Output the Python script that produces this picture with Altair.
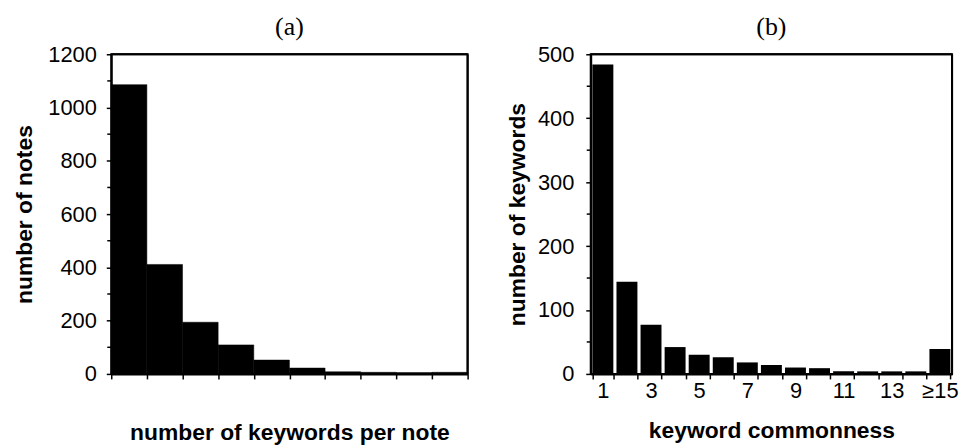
import altair as alt
import pandas as pd

# Panel (a): number of keywords per note (histogram, 10 bins)
a_bin_lo = [1, 2, 3, 4, 5, 6, 7, 8, 9, 10]
a_bin_hi = [2, 3, 4, 5, 6, 7, 8, 9, 10, 11]
a_counts = [1086, 411, 194, 109, 52, 22, 8, 6, 5, 6]
a_ticks = [1, 2, 3, 4, 5, 6, 7, 8, 9, 10, 11]
a_yticks = [0, 200, 400, 600, 800, 1000, 1200]
a_minor = [100, 300, 500, 700, 900, 1100]

# Panel (b): keyword commonness
b_cats = ["1", "2", "3", "4", "5", "6", "7", "8", "9", "10", "11", "12", "13", "14", "≥15"]
b_counts = [484, 144, 77, 42, 30, 26, 18, 14, 10, 9, 4, 4, 4, 4, 39]
b_shown = ["1", "3", "5", "7", "9", "11", "13", "≥15"]
b_yticks = [0, 100, 200, 300, 400, 500]
b_minor = [50, 150, 250, 350, 450]

SANS = "Liberation Sans"
SERIF = "Liberation Serif"
LABEL_SIZE = 22
TITLE_SIZE = 23
WA, WB, H = 359, 364, 322

df_a = pd.DataFrame({"lo": a_bin_lo, "hi": a_bin_hi, "n": a_counts})
df_am = pd.DataFrame({"v": a_minor})
df_b = pd.DataFrame({"c": b_cats, "n": b_counts})
df_bm = pd.DataFrame({"v": b_minor})
df_one = pd.DataFrame({"k": [0]})


def frame(w):
    top = alt.Chart(df_one).mark_rule(color="black", strokeWidth=2).encode(
        x=alt.value(0), x2=alt.value(w), y=alt.value(0))
    right = alt.Chart(df_one).mark_rule(color="black", strokeWidth=2).encode(
        x=alt.value(w), y=alt.value(0), y2=alt.value(H))
    return [top, right]


bars_a = alt.Chart(df_a).mark_bar(color="black", stroke="black", strokeWidth=0.5).encode(
    x=alt.X("lo:Q", scale=alt.Scale(domain=[1, 11], nice=False, zero=False),
            axis=alt.Axis(values=a_ticks, labels=False, title="number of keywords per note",
                          titlePadding=42, tickSize=5, grid=False)),
    x2="hi:Q",
    y=alt.Y("n:Q", scale=alt.Scale(domain=[0, 1200], nice=False),
            axis=alt.Axis(values=a_yticks, format="d", title="number of notes", titlePadding=11,
                          labelPadding=10, tickSize=5, grid=False)),
    y2=alt.datum(0),
)
minor_a = alt.Chart(df_am).mark_rule(color="black", strokeWidth=1.5).encode(
    y=alt.Y("v:Q"), x=alt.value(-4), x2=alt.value(0)
)
panel_a = alt.layer(bars_a, minor_a, *frame(WA)).properties(
    width=WA, height=H,
    title=alt.TitleParams("(a)", font=SERIF, fontSize=26, fontWeight="normal", offset=3),
)

label_expr = "indexof(" + str(b_shown) + ", datum.value) >= 0 ? datum.label : ''"
bars_b = alt.Chart(df_b).mark_bar(color="black").encode(
    x=alt.X("c:N", sort=b_cats,
            scale=alt.Scale(paddingInner=0.13, paddingOuter=0.07),
            axis=alt.Axis(title="keyword commonness", labelAngle=0, tickBand="extent",
                          labelExpr=label_expr, labelPadding=2, titlePadding=18,
                          tickSize=5, grid=False)),
    y=alt.Y("n:Q", scale=alt.Scale(domain=[0, 500], nice=False),
            axis=alt.Axis(values=b_yticks, format="d", title="number of keywords", titlePadding=8,
                          labelPadding=12, tickSize=5, grid=False)),
)
minor_b = alt.Chart(df_bm).mark_rule(color="black", strokeWidth=1.5).encode(
    y=alt.Y("v:Q"), x=alt.value(-4), x2=alt.value(0)
)
panel_b = alt.layer(bars_b, minor_b, *frame(WB)).properties(
    width=WB, height=H,
    title=alt.TitleParams("(b)", font=SERIF, fontSize=26, fontWeight="normal", offset=3),
)

chart = alt.hconcat(panel_a, panel_b, spacing=36).properties(
    padding={"left": 5, "top": 4, "right": 0, "bottom": 0}
).configure_view(
    stroke="black", strokeWidth=2
).configure_axis(
    labelFont=SANS, labelFontSize=LABEL_SIZE, labelColor="black",
    titleFont=SANS, titleFontSize=TITLE_SIZE, titleFontWeight="bold", titleColor="black",
    domainColor="black", domainWidth=2, tickColor="black", tickWidth=1.5,
).configure_title(color="black")

chart.save("out.html", embed_options={"renderer": "svg", "actions": False})
